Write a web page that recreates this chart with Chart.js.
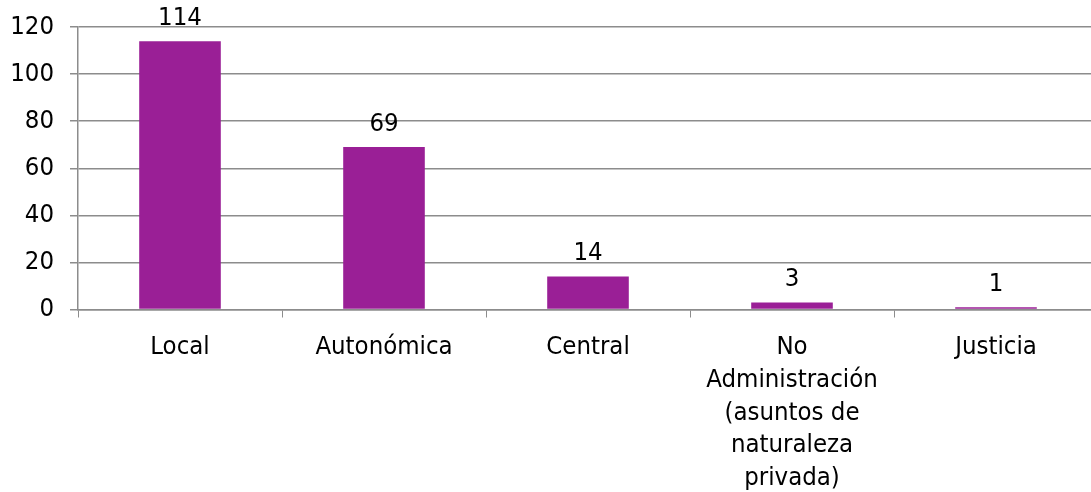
<!DOCTYPE html>
<html>
<head>
<meta charset="utf-8">
<script src="https://cdn.jsdelivr.net/npm/chart.js@4/dist/chart.umd.min.js"></script>
<style>
  html, body { margin: 0; padding: 0; background: #fff; overflow: hidden; }
  #wrap { width: 1098px; height: 492px; }
</style>
</head>
<body>
<div id="wrap"><canvas id="chart"></canvas></div>
<script>
// data
const categories = [
    'Local',
    'Autonómica',
    'Central',
    ['No', 'Administración', '(asuntos de', 'naturaleza', 'privada)'],
    'Justicia'
];
const values = [114, 69, 14, 3, 1];
const yTicks = { min: 0, max: 120, step: 20 };

const FONT = "'DejaVu Sans Condensed', 'DejaVu Sans', sans-serif";
const FONT_SIZE = 25.5;

// value labels above each bar
const barLabels = {
    id: 'barLabels',
    afterDatasetsDraw(chart) {
        const ctx = chart.ctx;
        const meta = chart.getDatasetMeta(0);
        ctx.save();
        ctx.font = `${FONT_SIZE}px ${FONT}`;
        ctx.fillStyle = '#000';
        ctx.textAlign = 'center';
        ctx.textBaseline = 'bottom';
        meta.data.forEach((bar, i) => {
            ctx.fillText(String(values[i]), bar.x, bar.y - 10);
        });
        ctx.restore();
    }
};

new Chart(document.getElementById('chart'), {
    type: 'bar',
    data: {
        labels: categories,
        datasets: [{
            data: values,
            backgroundColor: '#9a1f96',
            barPercentage: 0.4,
            categoryPercentage: 1,
        }]
    },
    options: {
        responsive: true,
        maintainAspectRatio: false,
        animation: false,
        layout: { padding: { top: 27, right: 0, bottom: 0, left: 0 } },
        plugins: {
            legend: { display: false },
            tooltip: { enabled: false },
        },
        scales: {
            x: {
                offset: true,
                grid: { drawOnChartArea: false, drawTicks: true, tickLength: 8, color: '#8c8c8c', offset: true },
                border: { color: '#8c8c8c', width: 1.5 },
                ticks: {
                    color: '#000',
                    padding: 14,
                    maxRotation: 0,
                    autoSkip: false,
                    font: { family: FONT, size: FONT_SIZE, lineHeight: 1.28 }
                },
                afterFit(scale) { scale.height = 182.5; scale.paddingLeft = 0; scale.paddingRight = 0; }
            },
            y: {
                min: yTicks.min,
                max: yTicks.max,
                ticks: {
                    stepSize: yTicks.step,
                    color: '#000',
                    padding: 16,
                    font: { family: FONT, size: FONT_SIZE }
                },
                grid: { color: '#8c8c8c', lineWidth: 1.5, tickLength: 8 },
                border: { color: '#8c8c8c', width: 1.5 },
                afterFit(scale) { scale.width = 78; scale.paddingTop = 0; scale.paddingBottom = 0; }
            }
        }
    },
    plugins: [barLabels]
});
</script>
</body>
</html>
